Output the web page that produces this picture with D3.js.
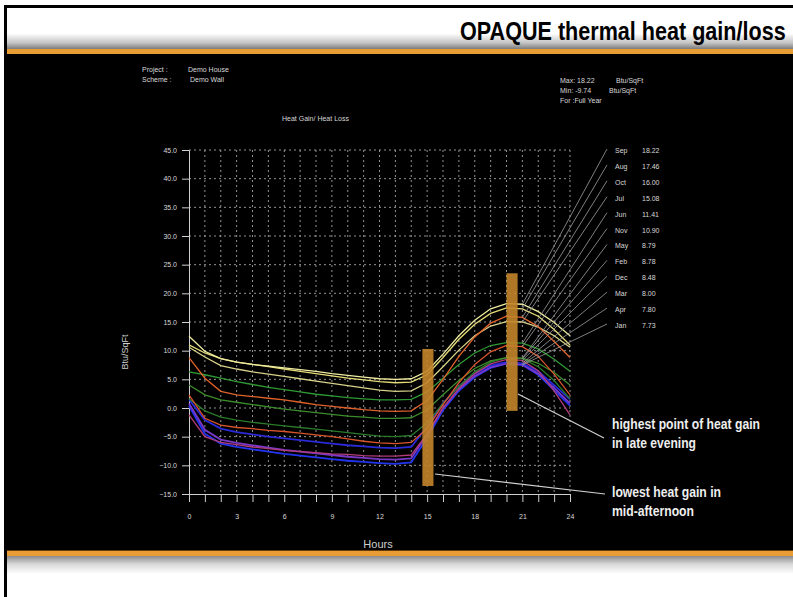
<!DOCTYPE html>
<html>
<head>
<meta charset="utf-8">
<script src="https://cdn.jsdelivr.net/npm/d3@7"></script>
<style>
  body { margin: 0; background: #fff; }
  svg { display: block; font-family: "Liberation Sans", Arial, sans-serif; }
</style>
</head>
<body>
<svg width="793" height="597"></svg>
<script>
// hours of the day (x categories)
var hours = [0, 1, 2, 3, 4, 5, 6, 7, 8, 9, 10, 11, 12, 13, 14, 15, 16, 17, 18, 19, 20, 21, 22, 23, 24];
var xTicks = [0, 3, 6, 9, 12, 15, 18, 21, 24];
var yTicks = [45, 40, 35, 30, 25, 20, 15, 10, 5, 0, -5, -10, -15];

// months in legend order, with their peak values
var months = ["Sep", "Aug", "Oct", "Jul", "Jun", "Nov", "May", "Feb", "Dec", "Mar", "Apr", "Jan"];
var peaks = [18.22, 17.46, 16.00, 15.08, 11.41, 10.90, 8.79, 8.78, 8.48, 8.00, 7.80, 7.73];

// hourly heat gain, Btu/SqFt
var sep = [12.5, 9.9, 8.6, 8.0, 7.6, 7.3, 7.0, 6.7, 6.4, 6.0, 5.7, 5.4, 5.1, 5.0, 5.1, 6.4, 9.4, 12.6, 15.3, 17.3, 18.22, 18.1, 16.8, 14.9, 12.6];
var aug = [11.0, 9.6, 8.6, 8.0, 7.6, 7.2, 6.8, 6.4, 6.0, 5.6, 5.2, 4.9, 4.6, 4.4, 4.5, 5.8, 8.8, 12.0, 14.6, 16.5, 17.46, 17.3, 16.0, 13.7, 11.0];
var oct = [8.8, 5.2, 2.9, 2.3, 2.0, 1.7, 1.4, 1.0, 0.6, 0.3, 0.0, -0.3, -0.5, -0.6, -0.5, 1.3, 5.0, 9.0, 12.4, 14.8, 16.0, 15.8, 14.2, 11.6, 8.8];
var jul = [10.6, 8.9, 7.4, 6.8, 6.3, 5.9, 5.5, 5.1, 4.7, 4.3, 3.9, 3.5, 3.1, 2.9, 3.0, 4.4, 7.2, 10.1, 12.6, 14.3, 15.08, 15.0, 14.1, 12.6, 10.6];
var jun = [6.3, 5.8, 5.2, 4.6, 4.1, 3.6, 3.2, 2.8, 2.4, 2.1, 1.8, 1.6, 1.4, 1.4, 1.5, 2.8, 5.2, 7.6, 9.6, 10.9, 11.41, 11.3, 10.3, 8.5, 6.4];
var nov = [2.3, -1.8, -3.0, -3.4, -3.6, -3.9, -4.1, -4.4, -4.7, -5.0, -5.4, -5.8, -6.1, -6.2, -6.0, -3.6, 0.6, 4.4, 7.6, 9.8, 10.9, 10.7, 9.0, 5.9, 2.3];
var may = [4.0, 2.3, 1.4, 1.0, 0.6, 0.2, -0.2, -0.5, -0.8, -1.1, -1.4, -1.6, -1.8, -1.8, -1.7, -0.3, 2.3, 4.8, 6.9, 8.2, 8.79, 8.7, 7.8, 6.2, 4.0];
var feb = [1.6, -0.5, -1.6, -2.1, -2.5, -2.8, -3.1, -3.4, -3.7, -4.0, -4.3, -4.6, -4.9, -5.0, -4.8, -2.6, 0.8, 3.8, 6.3, 8.0, 8.78, 8.6, 7.2, 4.8, 1.6];
var dec = [-1.2, -5.0, -6.0, -6.4, -6.8, -7.1, -7.4, -7.6, -7.8, -8.0, -8.1, -8.3, -8.4, -8.4, -8.2, -4.5, 0.0, 3.4, 6.0, 7.7, 8.48, 8.3, 6.5, 3.0, -1.2];
var mar = [1.5, -2.1, -3.6, -4.2, -4.6, -5.0, -5.3, -5.6, -5.9, -6.2, -6.5, -6.7, -6.9, -7.0, -6.8, -3.2, 0.8, 3.8, 6.0, 7.4, 8.0, 7.8, 6.4, 4.0, 1.5];
var apr = [0.8, -3.8, -5.5, -6.1, -6.5, -6.9, -7.3, -7.6, -7.9, -8.2, -8.5, -8.7, -8.9, -9.0, -8.8, -4.6, 0.0, 3.3, 5.6, 7.1, 7.8, 7.6, 6.0, 3.5, 0.8];
var jan = [0.4, -4.5, -6.2, -6.8, -7.2, -7.6, -8.0, -8.3, -8.6, -8.9, -9.2, -9.4, -9.6, -9.74, -9.5, -5.2, -0.4, 3.0, 5.4, 7.0, 7.73, 7.5, 5.8, 3.1, 0.4];

// highlight bars: [from hour, to hour] and [top, bottom] value
var barHours = [[14.7, 15.4], [20.0, 20.7]];
var barVals = [[10.3, -13.6], [23.5, -0.5]];

var series = [sep, aug, oct, jul, jun, nov, may, feb, dec, mar, apr, jan];
var colors = ["#efeca0", "#e6dc78", "#e0622a", "#d8d28a", "#2f9a34", "#d9542a",
              "#3c8c2c", "#2a7a2a", "#b03c7c", "#2a2ad8", "#7a38c8", "#2234ee"];

var svg = d3.select("svg");

// ---- slide frame ----
var defs = svg.append("defs");
var gTop = defs.append("linearGradient").attr("id", "gTop").attr("x1", 0).attr("y1", 0).attr("x2", 0).attr("y2", 1);
gTop.append("stop").attr("offset", "0").attr("stop-color", "#fff");
gTop.append("stop").attr("offset", "0.62").attr("stop-color", "#fff");
gTop.append("stop").attr("offset", "0.85").attr("stop-color", "#c4c4c4");
gTop.append("stop").attr("offset", "1").attr("stop-color", "#7c7c7c");
var gBot = defs.append("linearGradient").attr("id", "gBot").attr("x1", 0).attr("y1", 0).attr("x2", 0).attr("y2", 1);
gBot.append("stop").attr("offset", "0").attr("stop-color", "#8a8a8a");
gBot.append("stop").attr("offset", "0.45").attr("stop-color", "#d8d8d8");
gBot.append("stop").attr("offset", "1").attr("stop-color", "#fff");

svg.append("rect").attr("x", 4).attr("y", 5).attr("width", 789).attr("height", 3).attr("fill", "#000");
svg.append("rect").attr("x", 4).attr("y", 5).attr("width", 3).attr("height", 592).attr("fill", "#000");
svg.append("rect").attr("x", 7).attr("y", 8).attr("width", 786).attr("height", 41).attr("fill", "url(#gTop)");
svg.append("rect").attr("x", 7).attr("y", 49).attr("width", 786).attr("height", 5).attr("fill", "#e89c34");
svg.append("rect").attr("x", 7).attr("y", 54).attr("width", 786).attr("height", 496).attr("fill", "#000");
svg.append("rect").attr("x", 7).attr("y", 550).attr("width", 786).attr("height", 1).attr("fill", "#6a3a08");
svg.append("rect").attr("x", 7).attr("y", 551).attr("width", 786).attr("height", 5).attr("fill", "#e89c34");
svg.append("rect").attr("x", 7).attr("y", 556).attr("width", 786).attr("height", 18).attr("fill", "url(#gBot)");

// title: squeezed horizontally like a narrow face
var title = svg.append("text")
    .attr("font-size", 26).attr("font-weight", "bold").attr("fill", "#000")
    .text("OPAQUE thermal heat gain/loss");
var tw = title.node().getComputedTextLength();
title.attr("transform", "translate(460,40) scale(" + (326 / tw) + ",1)");

// ---- header texts ----
var small = "#d8d8d8";
function label(x, y, s, size) {
    return svg.append("text").attr("x", x).attr("y", y)
        .attr("font-size", size || 7).attr("fill", small).text(s);
}
label(142, 72, "Project :");
label(188, 72, "Demo House");
label(142, 82, "Scheme :");
label(190, 82, "Demo Wall");
label(282, 121, "Heat Gain/ Heat Loss");
label(560, 83, "Max: 18.22");
label(616, 83, "Btu/SqFt");
label(560, 93, "Min: -9.74");
label(609, 93, "Btu/SqFt");
label(560, 103, "For :Full Year");

// ---- chart ----
var x = d3.scaleLinear().domain([0, 24]).range([189, 570]);
var y = d3.scaleLinear().domain([-15, 45]).range([494, 150]);

var grid = svg.append("g").attr("stroke", "#b8b8b8").attr("stroke-width", 0.8).attr("stroke-dasharray", "2,3");
grid.selectAll("line.v").data(hours.slice(1)).enter().append("line")
    .attr("x1", function (d) { return x(d); }).attr("x2", function (d) { return x(d); })
    .attr("y1", y(45)).attr("y2", y(-15));
grid.selectAll("line.h").data(yTicks.slice(0, -1)).enter().append("line")
    .attr("x1", x(0)).attr("x2", x(24))
    .attr("y1", function (d) { return y(d); }).attr("y2", function (d) { return y(d); });

var yAxis = svg.append("g")
    .attr("transform", "translate(" + x(0) + ",0)")
    .call(d3.axisLeft(y).tickValues(yTicks).tickSize(7).tickPadding(5).tickFormat(d3.format(".1f")));
var xAxis = svg.append("g")
    .attr("transform", "translate(0," + y(-15) + ")")
    .call(d3.axisBottom(x).tickValues(hours).tickSize(8).tickPadding(12)
        .tickFormat(function (d) { return xTicks.indexOf(d) >= 0 ? d : ""; }));
[yAxis, xAxis].forEach(function (a) {
    a.select(".domain").attr("stroke", "#cfcfcf");
    a.selectAll(".tick line").attr("stroke", "#cfcfcf");
    a.selectAll("text").attr("fill", small).attr("font-size", 7).attr("font-family", "Liberation Sans, Arial, sans-serif");
});

var line = d3.line()
    .x(function (d, i) { return x(hours[i]); })
    .y(function (d) { return y(d); });

// draw lower months first so the warm ones sit on top
svg.append("g").selectAll("path")
    .data(series.map(function (s, i) { return { s: s, c: colors[i], i: i }; }).reverse())
    .enter().append("path")
    .attr("d", function (d) { return line(d.s); })
    .attr("fill", "none")
    .attr("stroke", function (d) { return d.c; })
    .attr("stroke-width", function (d) { return d.i >= 9 ? 1.8 : 1.3; });

// highlight bars
svg.append("g").selectAll("rect")
    .data(barHours)
    .enter().append("rect")
    .attr("x", function (d) { return x(d[0]); })
    .attr("width", function (d) { return x(d[1]) - x(d[0]); })
    .attr("y", function (d, i) { return y(barVals[i][0]); })
    .attr("height", function (d, i) { return y(barVals[i][1]) - y(barVals[i][0]); })
    .attr("fill", "#c3852a").attr("opacity", 0.9);

// legend with leaders
var legY = d3.scaleLinear().domain([0, 11]).range([153, 328]);
var leg = svg.append("g");
leg.selectAll("line").data(months).enter().append("line")
    .attr("x1", function (d, i) { return x(21); })
    .attr("y1", function (d, i) { return y(series[i][21]); })
    .attr("x2", 607).attr("y2", function (d, i) { return legY(i) - 4; })
    .attr("stroke", "#a0a0a0").attr("stroke-width", 0.8);
leg.selectAll("text.m").data(months).enter().append("text")
    .attr("x", 615).attr("y", function (d, i) { return legY(i); })
    .attr("font-size", 7).attr("fill", small).text(function (d) { return d; });
leg.selectAll("text.v").data(peaks).enter().append("text")
    .attr("x", 642).attr("y", function (d, i) { return legY(i); })
    .attr("font-size", 7).attr("fill", small).text(d3.format(".2f"));

// axis titles
svg.append("text").attr("x", 378).attr("y", 548).attr("text-anchor", "middle")
    .attr("font-size", 11).attr("fill", "#cfcfcf").text("Hours");
svg.append("text").attr("transform", "translate(128,352) rotate(-90)").attr("text-anchor", "middle")
    .attr("font-size", 9).attr("fill", "#cfcfcf").text("Btu/SqFt");

// annotations
svg.append("line").attr("x1", 518).attr("y1", 394).attr("x2", 604).attr("y2", 438)
    .attr("stroke", "#d0d0d0").attr("stroke-width", 1.2);
svg.append("line").attr("x1", 435).attr("y1", 474).attr("x2", 605).attr("y2", 494)
    .attr("stroke", "#d0d0d0").attr("stroke-width", 1.2);
function note(yy, s, len) {
    svg.append("text").attr("x", 612).attr("y", yy)
        .attr("font-size", 15).attr("font-weight", "bold").attr("fill", "#eeeeee")
        .attr("textLength", len).attr("lengthAdjust", "spacingAndGlyphs").text(s);
}
note(429, "highest point of heat gain", 148);
note(448, "in late evening", 84);
note(497, "lowest heat gain in", 109);
note(516, "mid-afternoon", 82);
</script>
</body>
</html>
